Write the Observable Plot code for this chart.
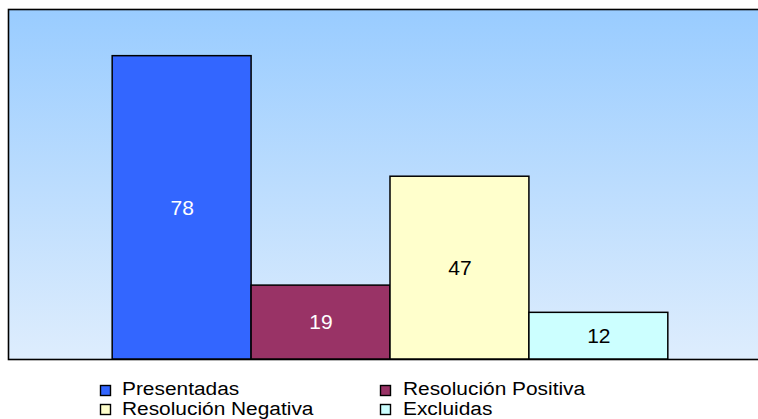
<!DOCTYPE html>
<html>
<head>
<meta charset="utf-8">
<script src="https://cdn.jsdelivr.net/npm/d3@7"></script>
<script src="https://cdn.jsdelivr.net/npm/@observablehq/plot@0.6"></script>
<style>
  body { margin: 0; background: white; }
  #wrap { width: 758px; height: 419px; overflow: hidden; font-family: Arial, "Liberation Sans", sans-serif; }
  #wrap svg { display: block; }
</style>
</head>
<body>
<div id="wrap"></div>
<script>
const categories = ["Presentadas", "Resolución Positiva", "Resolución Negativa", "Excluidas"];
const values = [78, 19, 47, 12];
const colors = ["#3366FF", "#993366", "#FFFFCC", "#CCFFFF"];
const labelColors = ["#FFFFFF", "#FFFFFF", "#000000", "#000000"];

const data = categories.map((c, i) => ({category: c, value: values[i], color: colors[i], label: labelColors[i]}));

const chart = Plot.plot({
  width: 758,
  height: 361,
  marginTop: 9,
  marginBottom: 2,
  marginLeft: 8,
  marginRight: -4,
  style: {background: "transparent", fontFamily: "Arial, 'Liberation Sans', sans-serif", overflow: "hidden"},
  x: {domain: categories, range: [8, 772], paddingInner: 0, paddingOuter: 0.75, round: false, axis: null},
  y: {domain: [0, 90], axis: null},
  marks: [
    Plot.frame({fill: "url(#bg)", stroke: "#000", strokeWidth: 1.6}),
    Plot.barY(data, {x: "category", y: "value", fill: d => d.color, stroke: "#000", strokeWidth: 1.5, insetLeft: 0, insetRight: 0}),
    Plot.text(data, {x: "category", y: d => d.value / 2, text: d => String(d.value), fill: d => d.label, fontSize: 21, textAnchor: "middle", lineAnchor: "middle"})
  ]
});

d3.select(chart).insert("defs", ":first-child").html(
  '<linearGradient id="bg" x1="0" y1="0" x2="0" y2="1">' +
  '<stop offset="0" stop-color="#99CCFF"/>' +
  '<stop offset="1" stop-color="#DEEDFD"/>' +
  '</linearGradient>'
);

document.getElementById("wrap").appendChild(chart);

// Legend below the chart
const legend = d3.create("svg").attr("width", 758).attr("height", 58)
  .style("font-family", "Arial, 'Liberation Sans', sans-serif");
const pos = [
  {sx: 100, sy: 24, tx: 122, ty: 34},
  {sx: 380, sy: 24, tx: 403, ty: 34},
  {sx: 100, sy: 43, tx: 122, ty: 54},
  {sx: 380, sy: 43, tx: 403, ty: 54}
];
const legendOrder = [0, 1, 2, 3];
legendOrder.forEach((k, i) => {
  const p = pos[i];
  legend.append("rect").attr("x", p.sx + 0.5).attr("y", p.sy + 0.5).attr("width", 10).attr("height", 10)
    .attr("fill", colors[k]).attr("stroke", "#000").attr("stroke-width", 1.4);
  legend.append("text").attr("transform", `translate(${p.tx},${p.ty}) scale(1.16,1)`)
    .attr("font-size", 18).attr("fill", "#000").text(categories[k]);
});
document.getElementById("wrap").appendChild(legend.node());
</script>
</body>
</html>
